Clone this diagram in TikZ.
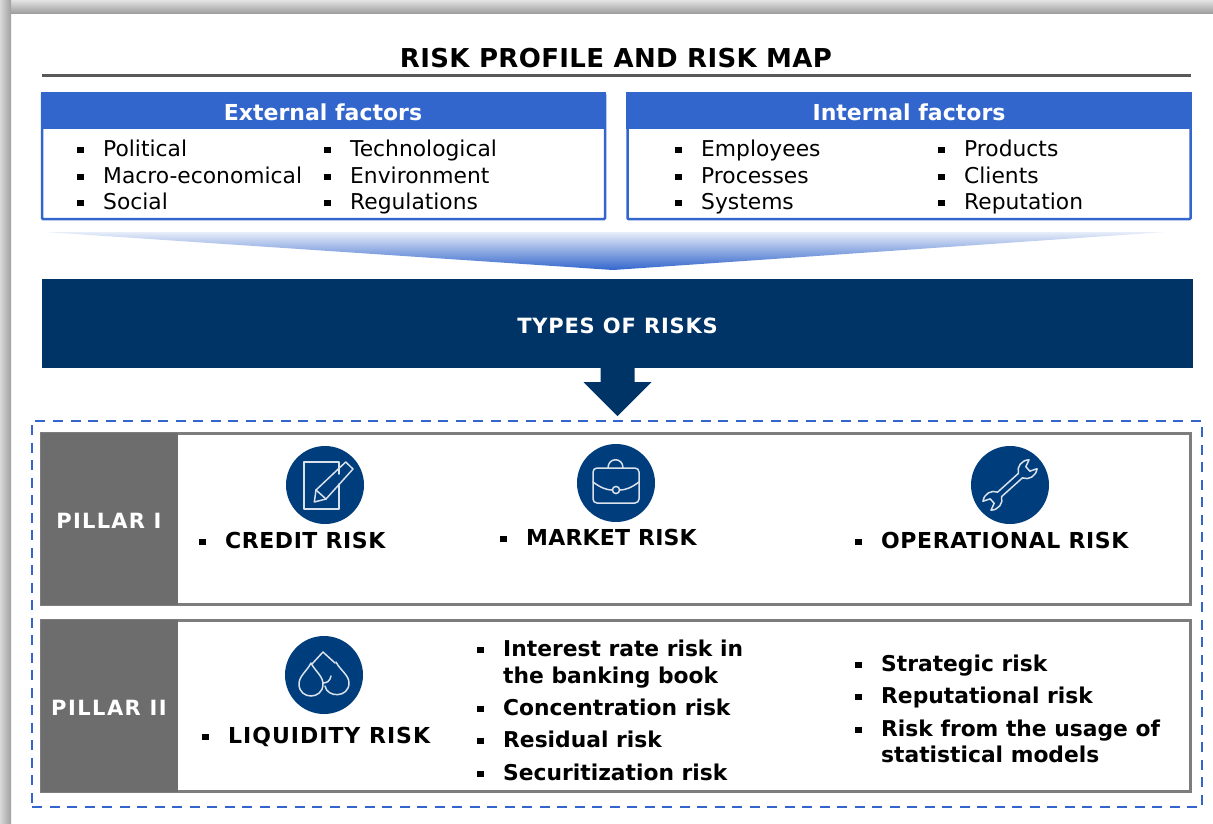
\documentclass[tikz,border=0pt]{standalone}
\usepackage{fontspec}
\setmainfont{DejaVu Sans}
\usetikzlibrary{calc}
\definecolor{hdrblue}{RGB}{51,102,204}
\definecolor{navy}{RGB}{0,51,102}
\definecolor{iconblue}{RGB}{0,61,124}
\definecolor{pillargray}{RGB}{109,109,109}
\definecolor{framegray}{RGB}{125,125,125}
\newcommand{\fs}[1]{\fontsize{#1pt}{#1pt}\selectfont}
\newcommand{\sq}[1]{\makebox[#1][l]{\rule[3pt]{6.5pt}{6.5pt}}}
\newcommand{\spc}[1]{\addfontfeature{LetterSpace=#1}}
\tikzset{
  x=1pt,y=-1pt,
  hdr/.style={fill=hdrblue,draw=none},
  factorbox/.style={draw=hdrblue,line width=2.5pt,fill=white,rounded corners=1pt},
  pillarbox/.style={draw=framegray,line width=2.5pt,fill=white},
  pillarlabel/.style={fill=pillargray,inner sep=0pt},
  pillartext/.style={text=white,font=\fs{21}\bfseries,inner sep=0pt},
  hdrtext/.style={text=white,font=\fs{22}\bfseries,inner sep=0pt},
  item/.style={anchor=base west,inner sep=0pt,font=\fs{21.8}},
  bitem/.style={anchor=base west,inner sep=0pt,font=\fs{21.8}\bfseries},
  capitem/.style={anchor=base west,inner sep=0pt,font=\fs{22}\bfseries},
  icon/.style={fill=iconblue,draw=none,circle,minimum size=78pt,inner sep=0pt},
  iconline/.style={draw=white!85!iconblue,line width=1.5pt,line join=round,line cap=round},
}
\begin{document}
\begin{tikzpicture}
\useasboundingbox (0,0) rectangle (1213,823);
\fill[white] (0,0) rectangle (1213,823);
% frame shadow
\shade[top color=gray!22,bottom color=gray!75] (0,0) rectangle (1213,13);
\shade[left color=gray!30,right color=gray!75] (0,0) rectangle (11,823);
% title
\node[inner sep=0pt,font=\fs{26}\bfseries] (title) at (616,58) {\spc{1.4}RISK PROFILE AND RISK MAP};
\coordinate (tl) at (42,75); \coordinate (tr) at (1191,75);
\draw[line width=3pt,black!65] (tl) -- (tr);
% factor boxes
\node[factorbox,minimum width=563pt,minimum height=125pt,inner sep=0pt] (ext) at (323.5,156.5) {};
\node[factorbox,minimum width=563pt,minimum height=125pt,inner sep=0pt] (int) at (909,156.5) {};
\fill[hdr] ($(ext.north west)+(0,-1)$) rectangle ($(ext.north east)+(0,36)$);
\fill[hdr] ($(int.north west)+(0,-1)$) rectangle ($(int.north east)+(0,36)$);
\node[hdrtext] (exth) at (323,112) {External factors};
\node[hdrtext] (inth) at (909,112) {Internal factors};
\node[item] (e1) at (77,156) {\sq{26pt}Political};
\node[item] (e2) at (77,183) {\sq{26pt}Macro-economical};
\node[item] (e3) at (77,209) {\sq{26pt}Social};
\node[item] (e4) at (324,156) {\sq{26pt}Technological};
\node[item] (e5) at (324,183) {\sq{26pt}Environment};
\node[item] (e6) at (324,209) {\sq{26pt}Regulations};
\node[item] (i1) at (675,156) {\sq{26pt}Employees};
\node[item] (i2) at (675,183) {\sq{26pt}Processes};
\node[item] (i3) at (675,209) {\sq{26pt}Systems};
\node[item] (i4) at (938,156) {\sq{26pt}Products};
\node[item] (i5) at (938,183) {\sq{26pt}Clients};
\node[item] (i6) at (938,209) {\sq{26pt}Reputation};
% funnel
\begin{scope}
\clip (45,232) -- (1165,232) -- (613,270) -- cycle;
\shade[top color=hdrblue!12,bottom color=hdrblue] (45,232) rectangle (1165,270);
\end{scope}
% banner
\node[fill=navy,minimum width=1151pt,minimum height=89pt,inner sep=0pt] (types) at (617.5,323.5) {};
\node[text=white,font=\fs{21}\bfseries,inner sep=0pt] (typest) at (617.5,325.5) {\spc{3.8}TYPES OF RISKS};
% dashed frame
\node[draw=hdrblue,dashed,dash pattern=on 10pt off 7.5pt,line width=2.5pt,minimum width=1170pt,minimum height=386pt,inner sep=0pt] (dash) at (617,614) {};
% block arrow
\fill[navy] ($(types.south)+(-17,0)$) -- ($(types.south)+(17,0)$) -- ($(types.south)+(17,14)$) -- ($(types.south)+(34,14)$) -- ($(types.south)+(0,48)$) -- ($(types.south)+(-34,14)$) -- ($(types.south)+(-17,14)$) -- cycle;
% pillars
\node[pillarbox,minimum width=1149pt,minimum height=171pt,inner sep=0pt] (p1) at (616,519) {};
\node[pillarbox,minimum width=1149pt,minimum height=171pt,inner sep=0pt] (p2) at (616,706) {};
\node[pillarlabel,minimum width=137pt,minimum height=172pt] (p1l) at (109.5,519) {};
\node[pillarlabel,minimum width=137pt,minimum height=172pt] (p2l) at (109.5,706) {};
\node[pillartext] (p1t) at (109,521) {\spc{6}PILLAR I};
\node[pillartext] (p2t) at (109,708) {\spc{7}PILLAR II};
% icons
\node[icon] (credit) at (325,485) {};
\node[icon] (market) at (616,483) {};
\node[icon] (oper) at (1010,485) {};
\node[icon] (liq) at (324,675) {};
% credit icon
\begin{scope}[shift={(credit.center)},iconline]
\draw (14,-11) -- (14,-23) -- (-21,-23) -- (-21,24) -- (14,24) -- (14,-1);
\draw (-10.7,17) -- (-9,5) -- (20.7,-23) -- (28,-16) -- (1,14) -- cycle;
\draw (-9,5) -- (1,14);
\end{scope}
% briefcase icon
\begin{scope}[shift={(market.center)},iconline]
\draw[rounded corners=4pt] (-23,-15) rectangle (23,20);
\draw (-8,-15) .. controls (-8,-26) and (7,-26) .. (7,-15);
\draw (-23,-1) .. controls (-15,5) and (-9,7) .. (-4,7);
\draw (23,-1) .. controls (15,5) and (9,7) .. (4,7);
\draw (0,7) circle (3.6);
\end{scope}
% wrench icon
\begin{scope}[shift={(oper.center)},rotate=42,iconline]
\draw (-14,3) -- (14,3) .. controls (17,9) and (25,11) .. (31,6) -- (24,3) -- (24,-3) -- (31,-6) .. controls (25,-11) and (17,-9) .. (14,-3) -- (-14,-3) .. controls (-17,-9) and (-25,-11) .. (-31,-6) -- (-24,-3) -- (-24,3) -- (-31,6) .. controls (-25,11) and (-17,9) .. (-14,3);
\end{scope}
% drops icon
\begin{scope}[shift={(liq.center)},iconline]
\draw (-13,-12) .. controls (-17,-4) and (-25,1) .. (-25,9) .. controls (-25,25) and (-1,25) .. (-1,9) .. controls (-1,1) and (-9,-4) .. (-13,-12) -- cycle;
\draw (-12,-11) -- (-1,-23) -- (11,-12);
\draw (-1,8) .. controls (3,8) and (6,6) .. (7,1);
\draw (12,-13) .. controls (16,-5) and (25,0) .. (25,8) .. controls (25,23) and (3,23) .. (1,11);
\end{scope}
% pillar I items
\node[capitem] (c1) at (199,548) {\sq{26pt}\spc{2.5}CREDIT RISK};
\node[capitem] (c2) at (500,545) {\sq{26pt}\spc{1}MARKET RISK};
\node[capitem] (c3) at (855,548) {\sq{26pt}\spc{2.6}OPERATIONAL RISK};
% pillar II items
\node[capitem] (l1) at (202,743) {\sq{26pt}\spc{4.5}LIQUIDITY RISK};
\node[bitem] (m1) at (477,656) {\sq{26pt}Interest rate risk in};
\node[bitem] (m1b) at (503,683) {the banking book};
\node[bitem] (m2) at (477,715) {\sq{26pt}Concentration risk};
\node[bitem] (m3) at (477,747) {\sq{26pt}Residual risk};
\node[bitem] (m4) at (477,780) {\sq{26pt}Securitization risk};
\node[bitem] (r1) at (855,671) {\sq{26pt}Strategic risk};
\node[bitem] (r2) at (855,703) {\sq{26pt}Reputational risk};
\node[bitem] (r3) at (855,736) {\sq{26pt}Risk from the usage of};
\node[bitem] (r3b) at (881,762) {statistical models};
\end{tikzpicture}
\end{document}
